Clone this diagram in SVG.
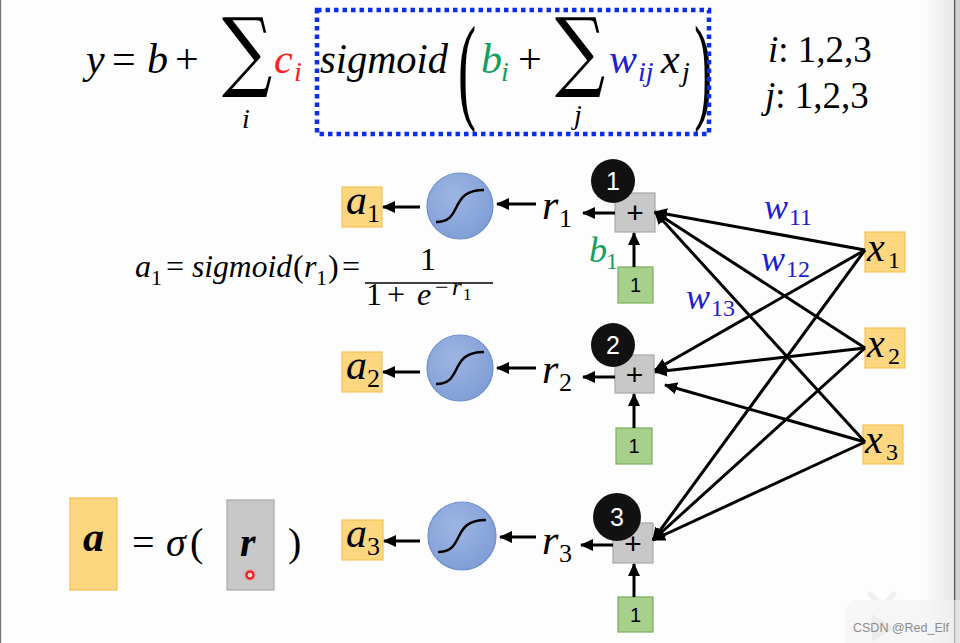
<svg xmlns="http://www.w3.org/2000/svg" width="960" height="643" viewBox="0 0 960 643">
<defs>
<marker id="ah" markerUnits="userSpaceOnUse" markerWidth="13" markerHeight="12" refX="12" refY="6" orient="auto">
<path d="M0,0 L13,6 L0,12 z" fill="#000"/>
</marker>
<linearGradient id="edge" x1="0" x2="1" y1="0" y2="0">
<stop offset="0" stop-color="#fdfdfd"/>
<stop offset="1" stop-color="#e6e6e6"/>
</linearGradient>
<radialGradient id="ball" cx="0.4" cy="0.35" r="0.7">
<stop offset="0" stop-color="#9db5e2"/>
<stop offset="1" stop-color="#7f9dd6"/>
</radialGradient>
</defs>
<style>
.m{font-family:"Liberation Serif",serif;font-style:italic;fill:#000}
.u{font-family:"Liberation Serif",serif;fill:#000}
.s{font-family:"Liberation Sans",Arial,sans-serif}
.ob{fill:#fdd680;stroke:#f3c255;stroke-width:1.2}
.gb{fill:#c8c8c8;stroke:#a9a9a9;stroke-width:1.2}
.grb{fill:#a8d08d;stroke:#78b05a;stroke-width:1.2}
.bc{fill:url(#ball);stroke:#6f8fcc;stroke-width:1.2}
.k{fill:#111}
.ln{stroke:#000;stroke-width:3;fill:none;marker-end:url(#ah)}
.sg{stroke:#000;stroke-width:2.5;fill:none}
.bl{fill:#2020d0}
.gr{fill:#12a060}
.rd{fill:#ff2020}
</style>
<rect width="960" height="643" fill="#fdfdfd"/>
<rect x="925" y="0" width="30" height="643" fill="url(#edge)"/>
<rect x="954" y="0" width="1.6" height="643" fill="#555"/>
<rect x="955.6" y="0" width="4.4" height="643" fill="#d0d0d0"/>
<rect x="0" y="0" width="1.2" height="643" fill="#777"/>

<!-- top equation -->
<g id="equation">
<text class="m" x="86" y="73" font-size="42">y</text>
<text class="u" x="112" y="73" font-size="42">=</text>
<text class="m" x="147" y="73" font-size="42">b</text>
<text class="u" x="175" y="73" font-size="42">+</text>
<text transform="translate(222,80) scale(1.1,1.36)" x="0" y="0" font-family="DejaVu Serif,serif" font-size="64">∑</text>
<text class="m" x="242" y="128" font-size="28">i</text>
<text class="m rd" x="274" y="73" font-size="42">c</text>
<text class="m rd" x="294" y="81" font-size="28">i</text>
<text class="m" x="320" y="73" font-size="42" textLength="128" lengthAdjust="spacingAndGlyphs">sigmoid</text>
<text class="u" transform="translate(458,0) scale(1.3,2.8)" x="0" y="38.6" font-size="42">(</text>
<text class="m gr" x="481" y="73" font-size="42">b</text>
<text class="m gr" x="501" y="81" font-size="28">i</text>
<text class="u" x="518" y="73" font-size="42">+</text>
<text transform="translate(555,80) scale(1.1,1.36)" x="0" y="0" font-family="DejaVu Serif,serif" font-size="64">∑</text>
<text class="m" x="574" y="124" font-size="28">j</text>
<text class="m bl" x="609" y="73" font-size="42">w</text>
<text class="m bl" x="638" y="81" font-size="28">ij</text>
<text class="m" x="661" y="73" font-size="42">x</text>
<text class="m" x="682" y="81" font-size="28">j</text>
<text class="u" transform="translate(694,0) scale(1.3,2.8)" x="0" y="38.6" font-size="42">)</text>
<rect x="317" y="10" width="392" height="124" fill="none" stroke="#0a2ef0" stroke-width="4.5" stroke-dasharray="4.5 4"/>
<text x="768" y="62" font-size="37" class="u"><tspan class="m">i</tspan>: 1,2,3</text>
<text x="765" y="108" font-size="37" class="u"><tspan class="m">j</tspan>: 1,2,3</text>
</g>

<!-- middle formula -->
<g id="sigmoid-formula">
<text class="m" x="135" y="277" font-size="32">a</text>
<text class="u" x="151" y="285" font-size="22">1</text>
<text class="u" x="166" y="277" font-size="32">=</text>
<text class="m" x="192" y="277" font-size="32" textLength="100" lengthAdjust="spacingAndGlyphs">sigmoid</text>
<text class="u" x="293" y="277" font-size="32">(</text>
<text class="m" x="304" y="277" font-size="32">r</text>
<text class="u" x="316" y="285" font-size="22">1</text>
<text class="u" x="328" y="277" font-size="32">)</text>
<text class="u" x="342" y="277" font-size="32">=</text>
<line x1="365" y1="283" x2="493" y2="283" stroke="#000" stroke-width="1.6"/>
<text class="u" x="420" y="270" font-size="32">1</text>
<text class="u" x="366" y="305" font-size="32">1</text>
<text class="u" x="387" y="305" font-size="32">+</text>
<text class="m" x="417" y="305" font-size="32">e</text>
<text class="u" x="435" y="295" font-size="24">−</text>
<text class="m" x="452" y="295" font-size="25">r</text>
<text class="u" x="463" y="300" font-size="17">1</text>
</g>

<!-- bottom vector formula -->
<g id="vector-formula">
<rect class="ob" x="70" y="498" width="47" height="92"/>
<text class="m" x="83" y="551" font-size="42" font-weight="bold">a</text>
<text class="u" x="132" y="556" font-size="40">=</text>
<text class="m" x="166" y="556" font-size="40">σ</text>
<text class="u" x="190" y="556" font-size="40">(</text>
<rect class="gb" x="227" y="500" width="47" height="90"/>
<text class="m" x="240" y="556" font-size="40" font-weight="bold">r</text>
<circle cx="250" cy="575" r="6" fill="#ff4040" opacity="0.25"/>
<circle cx="250" cy="575" r="3.5" fill="#ffd0d0" stroke="#f01010" stroke-width="2"/>
<text class="u" x="288" y="556" font-size="40">)</text>
</g>

<!-- row 1 -->
<g id="a1"><rect class="ob" x="342" y="187" width="40" height="40"/><text class="m" x="346" y="214" font-size="42">a</text><text class="u" x="367" y="222" font-size="26">1</text></g>
<g id="sig1"><circle class="bc" cx="460" cy="206" r="33"/><path class="sg" d="M436,222 C464,222 448,190 484,190"/></g>
<g id="r1"><text class="m" x="542" y="219" font-size="42">r</text><text class="u" x="559" y="227" font-size="26">1</text></g>
<g id="plus1"><rect class="gb" x="615" y="193" width="40" height="39"/><text class="s" x="635" y="223" font-size="30" text-anchor="middle">+</text></g>
<g id="n1"><circle class="k" cx="613" cy="181" r="22"/><text class="s" x="613" y="190" font-size="25" fill="#fff" text-anchor="middle">1</text></g>
<g id="bias1"><rect class="grb" x="618" y="267" width="35" height="36"/><text class="s" x="635.5" y="292" font-size="20" text-anchor="middle">1</text></g>
<g id="b1"><text class="m gr" x="589" y="262" font-size="36">b</text><text class="u gr" x="606" y="269" font-size="24">1</text></g>

<!-- row 2 -->
<g id="a2"><rect class="ob" x="342" y="352" width="40" height="40"/><text class="m" x="346" y="379" font-size="42">a</text><text class="u" x="367" y="387" font-size="26">2</text></g>
<g id="sig2"><circle class="bc" cx="460" cy="368" r="33"/><path class="sg" d="M436,384 C464,384 448,352 484,352"/></g>
<g id="r2"><text class="m" x="542" y="383" font-size="42">r</text><text class="u" x="559" y="391" font-size="26">2</text></g>
<g id="plus2"><rect class="gb" x="615" y="355" width="39" height="38"/><text class="s" x="634.5" y="385" font-size="30" text-anchor="middle">+</text></g>
<g id="n2"><circle class="k" cx="613" cy="345" r="22"/><text class="s" x="613" y="354" font-size="25" fill="#fff" text-anchor="middle">2</text></g>
<g id="bias2"><rect class="grb" x="616" y="428" width="36" height="36"/><text class="s" x="634" y="453" font-size="20" text-anchor="middle">1</text></g>

<!-- row 3 -->
<g id="a3"><rect class="ob" x="342" y="520" width="41" height="40"/><text class="m" x="346" y="547" font-size="42">a</text><text class="u" x="367" y="555" font-size="26">3</text></g>
<g id="sig3"><circle class="bc" cx="462" cy="536" r="34"/><path class="sg" d="M438,552 C466,552 450,520 486,520"/></g>
<g id="r3"><text class="m" x="542" y="554" font-size="42">r</text><text class="u" x="559" y="562" font-size="26">3</text></g>
<g id="plus3"><rect class="gb" x="613" y="523" width="40" height="40"/><text class="s" x="633" y="554" font-size="30" text-anchor="middle">+</text></g>
<g id="n3"><circle class="k" cx="617" cy="517" r="24"/><text class="s" x="617" y="526" font-size="25" fill="#fff" text-anchor="middle">3</text></g>
<g id="bias3"><rect class="grb" x="618" y="597" width="35" height="35"/><text class="s" x="635.5" y="622" font-size="20" text-anchor="middle">1</text></g>

<!-- inputs -->
<g id="x1"><rect class="ob" x="865" y="232" width="40" height="40"/><text class="m" x="867" y="261" font-size="40">x</text><text class="u" x="888" y="268" font-size="24">1</text></g>
<g id="x2"><rect class="ob" x="865" y="328" width="40" height="40"/><text class="m" x="867" y="357" font-size="40">x</text><text class="u" x="888" y="364" font-size="24">2</text></g>
<g id="x3"><rect class="ob" x="863" y="425" width="40" height="39"/><text class="m" x="865" y="453" font-size="40">x</text><text class="u" x="886" y="460" font-size="24">3</text></g>

<!-- weight labels -->
<g id="weights">
<text class="m bl" x="764" y="219" font-size="36">w</text><text class="u bl" x="789" y="225" font-size="24">11</text>
<text class="m bl" x="761" y="271" font-size="36">w</text><text class="u bl" x="786" y="277" font-size="24">12</text>
<text class="m bl" x="686" y="309" font-size="36">w</text><text class="u bl" x="711" y="316" font-size="24">13</text>
</g>

<g id="connectors">
<path class="ln" d="M420,207 L383,207"/>
<path class="ln" d="M536,204 L497,204"/>
<path class="ln" d="M615,213 L583,213"/>
<path class="ln" d="M634,267 L634,233"/>
<path class="ln" d="M420,372 L383,372"/>
<path class="ln" d="M536,368 L497,368"/>
<path class="ln" d="M615,377 L583,377"/>
<path class="ln" d="M634,428 L634,394"/>
<path class="ln" d="M420,541 L384,541"/>
<path class="ln" d="M536,537 L500,537"/>
<path class="ln" d="M613,545 L581,545"/>
<path class="ln" d="M634,597 L634,564"/>
<path class="ln" d="M865,250 L655,212"/>
<path class="ln" d="M865,348 L655,212"/>
<path class="ln" d="M865,442 L655,212"/>
<path class="ln" d="M865,250 L655,370"/>
<path class="ln" d="M865,348 L655,372"/>
<path class="ln" d="M865,442 L665,385"/>
<path class="ln" d="M865,250 L653,540"/>
<path class="ln" d="M865,348 L653,540"/>
<path class="ln" d="M865,442 L653,540"/>
</g>

<g id="watermark" opacity="0.6">
<path d="M870,594 L878,602 M894,594 L886,602" stroke="#e8e8e8" stroke-width="5" stroke-linecap="round"/>
<rect x="845" y="600" width="130" height="60" rx="14" fill="#f2f2f2"/>
<path d="M872,614 L895,628 L872,642 z" fill="#e2e2e2"/>
</g>
<text x="853" y="632" font-family="Liberation Sans,Arial,sans-serif" font-size="12.5" fill="#8c8c8c">CSDN @Red_Elf</text>
</svg>
